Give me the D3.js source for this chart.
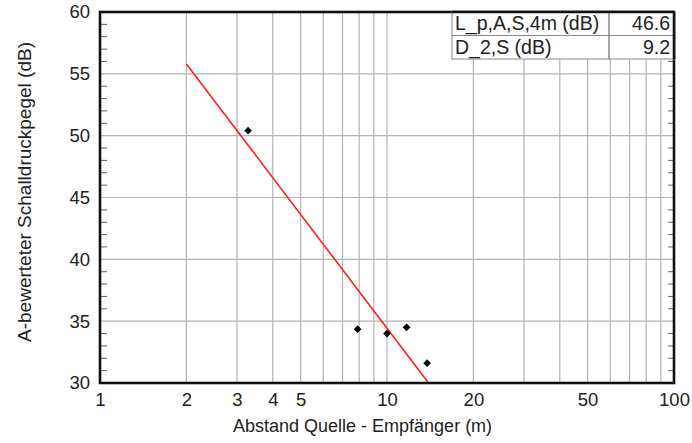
<!DOCTYPE html>
<html>
<head>
<meta charset="utf-8">
<script src="https://cdn.jsdelivr.net/npm/d3@7"></script>
<style>
  body { margin: 0; background: #fff; }
  svg { font-family: "Liberation Sans", Arial, sans-serif; }
</style>
</head>
<body>
<div id="chart-area"></div>
<script>
// measured points
var distances = [3.28, 7.9, 10.0, 11.7, 13.8];
var levels = [50.4, 34.35, 34.0, 34.5, 31.6];

// regression line (start at 2 m, clipped at 30 dB)
var fitX = [2, 13.96];
var fitY = [55.8, 30];

// table
var tableLabels = ["L_p,A,S,4m (dB)", "D_2,S (dB)"];
var tableValues = ["46.6", "9.2"];

var xTickValues = [1, 2, 3, 4, 5, 10, 20, 50, 100];
var xGridValues = [2, 3, 4, 5, 6, 7, 8, 9, 10, 20, 30, 40, 50, 60, 70, 80, 90];
var yTickValues = [30, 35, 40, 45, 50, 55, 60];

var width = 692, height = 443;
var margin = {top: 12, right: 18, bottom: 60, left: 100};
var w = width - margin.left - margin.right;
var h = height - margin.top - margin.bottom;

var svg = d3.select("#chart-area").append("svg")
    .attr("width", width)
    .attr("height", height);

var g = svg.append("g")
    .attr("transform", "translate(" + margin.left + "," + margin.top + ")");

var x = d3.scaleLog().domain([1, 100]).range([0, w]);
var y = d3.scaleLinear().domain([30, 60]).range([h, 0]);

// grid lines
g.selectAll(".vgrid").data(xGridValues).enter().append("line")
    .attr("class", "vgrid")
    .attr("x1", d => x(d)).attr("x2", d => x(d))
    .attr("y1", 0).attr("y2", h)
    .attr("stroke", "#b4b4b4").attr("stroke-width", 1.2);

g.selectAll(".hgrid").data(yTickValues.slice(1, -1)).enter().append("line")
    .attr("class", "hgrid")
    .attr("x1", 0).attr("x2", w)
    .attr("y1", d => y(d)).attr("y2", d => y(d))
    .attr("stroke", "#b4b4b4").attr("stroke-width", 1.2);

// minor ticks every 1 dB, inside on left and right
var minor = d3.range(31, 60).filter(d => d % 5 != 0);
g.selectAll(".mtl").data(minor).enter().append("line")
    .attr("x1", 0).attr("x2", 7)
    .attr("y1", d => y(d)).attr("y2", d => y(d))
    .attr("stroke", "#666").attr("stroke-width", 1);
g.selectAll(".mtr").data(minor).enter().append("line")
    .attr("x1", w - 6).attr("x2", w)
    .attr("y1", d => y(d)).attr("y2", d => y(d))
    .attr("stroke", "#666").attr("stroke-width", 1);

// axes (labels only)
var xAxis = d3.axisBottom(x).tickValues(xTickValues).tickFormat(d3.format("d")).tickSize(0).tickPadding(10);
var gx = g.append("g").attr("transform", "translate(0," + h + ")").call(xAxis);
gx.select(".domain").remove();
gx.selectAll("text").attr("font-size", 18.5).attr("fill", "#222").attr("font-family", null);

var yAxis = d3.axisLeft(y).tickValues(yTickValues).tickSize(0).tickPadding(10);
var gy = g.append("g").call(yAxis);
gy.select(".domain").remove();
gy.selectAll("text").attr("font-size", 18.5).attr("fill", "#222").attr("font-family", null);

// fit line
var line = d3.line().x(d => x(d[0])).y(d => y(d[1]));
g.append("path")
    .datum(fitX.map((d, i) => [d, fitY[i]]))
    .attr("d", line)
    .attr("fill", "none")
    .attr("stroke", "#ff2020")
    .attr("stroke-width", 1.6);

// points (diamonds)
g.selectAll(".pt").data(distances).enter().append("path")
    .attr("transform", (d, i) => "translate(" + x(d) + "," + y(levels[i]) + ") rotate(45)")
    .attr("d", d3.symbol().type(d3.symbolSquare).size(30))
    .attr("fill", "#000");

// frame
g.append("rect")
    .attr("x", 0).attr("y", 0).attr("width", w).attr("height", h)
    .attr("fill", "none").attr("stroke", "#111").attr("stroke-width", 2.6);

// table top right
var tLeft = 452 - margin.left, tSplit = 609 - margin.left, rowH = 23.5;
var tbl = g.append("g");
tbl.append("rect")
    .attr("x", tLeft).attr("y", 0).attr("width", w - tLeft).attr("height", rowH * 2)
    .attr("fill", "#fff");
tbl.selectAll(".row").data(tableLabels).enter().append("rect")
    .attr("x", tLeft).attr("y", (d, i) => i * rowH)
    .attr("width", tSplit - tLeft).attr("height", rowH)
    .attr("fill", "none").attr("stroke", "#888").attr("stroke-width", 1);
tbl.selectAll(".rowv").data(tableValues).enter().append("rect")
    .attr("x", tSplit).attr("y", (d, i) => i * rowH)
    .attr("width", w - tSplit).attr("height", rowH)
    .attr("fill", "none").attr("stroke", "#888").attr("stroke-width", 1);
tbl.selectAll(".lbl").data(tableLabels).enter().append("text")
    .attr("x", tLeft + 3).attr("y", (d, i) => i * rowH + 18)
    .attr("font-size", 19.5).attr("fill", "#222")
    .text(d => d);
tbl.selectAll(".val").data(tableValues).enter().append("text")
    .attr("x", w - 4).attr("y", (d, i) => i * rowH + 18)
    .attr("text-anchor", "end")
    .attr("font-size", 19.5).attr("fill", "#222")
    .text(d => d);
// frame top/right over table
g.append("line").attr("x1", tLeft).attr("x2", w).attr("y1", 0).attr("y2", 0)
    .attr("stroke", "#111").attr("stroke-width", 2.6);
g.append("line").attr("x1", w).attr("x2", w).attr("y1", 0).attr("y2", rowH * 2)
    .attr("stroke", "#111").attr("stroke-width", 2.6);

// axis titles
svg.append("text")
    .attr("x", 233).attr("y", 432)
    .attr("font-size", 18).attr("fill", "#222")
    .text("Abstand Quelle - Empfänger (m)");
svg.append("text")
    .attr("transform", "translate(31,192) rotate(-90)")
    .attr("text-anchor", "middle")
    .attr("font-size", 19).attr("fill", "#222")
    .text("A-bewerteter Schalldruckpegel (dB)");
</script>
</body>
</html>
